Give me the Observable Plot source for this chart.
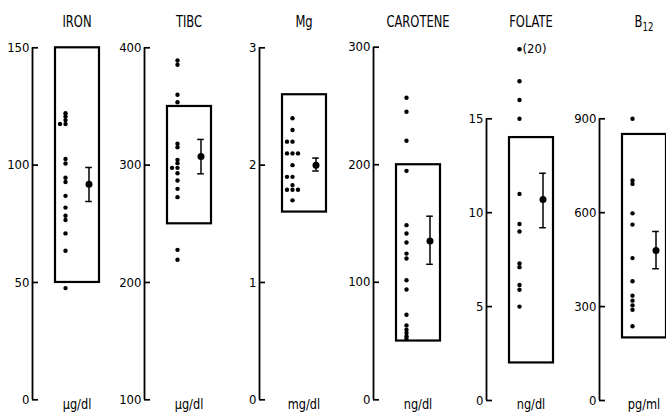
<!DOCTYPE html>
<html><head><meta charset="utf-8">
<script src="https://cdn.jsdelivr.net/npm/d3@7"></script>
<script src="https://cdn.jsdelivr.net/npm/@observablehq/plot@0.6"></script>
<style>
body{margin:0;background:#fff;}
#chart{position:relative;width:666px;height:415px;overflow:hidden;background:#fff;font-family:"DejaVu Sans Condensed","Liberation Sans Narrow",sans-serif;color:#000;}
.panel{position:absolute;top:0;}
.title{position:absolute;top:14px;width:100px;text-align:center;font-size:16px;line-height:16px;transform:scaleX(0.8);transform-origin:50% 50%;}
.title sub{font-size:12px;vertical-align:-4px;line-height:0;}
.unit{position:absolute;top:397px;width:100px;text-align:center;font-size:14px;line-height:14px;transform:scaleX(0.9);transform-origin:50% 50%;}
</style></head><body><div id="chart"></div>
<script>
// ---- data ----
const titleMain = ["IRON", "TIBC", "Mg", "CAROTENE", "FOLATE", "B"];
const titleSub  = ["", "", "", "", "", "12"];
const units     = ["µg/dl", "µg/dl", "mg/dl", "ng/dl", "ng/dl", "pg/ml"];
const axisMin   = [0, 100, 0, 0, 0, 0];
const axisMax   = [150, 400, 3, 300, 15, 900];
const tickValues = [[0, 50, 100, 150], [100, 200, 300, 400], [0, 1, 2, 3], [0, 100, 200, 300], [0, 5, 10, 15], [0, 300, 600, 900]];
const normalLow  = [50, 250, 1.6, 50, 2, 200];
const normalHigh = [150, 350, 2.6, 200, 14, 850];
const means  = [91.9, 307.3, 2.0, 135.2, 10.7, 479];
const errLow  = [84.5, 292.6, 1.95, 115.3, 9.2, 421];
const errHigh = [99.0, 321.9, 2.06, 156.2, 12.1, 540];

const ironValues = [122.1, 120.7, 119.2, 117.5, 117.5, 102.6, 100.7, 94.6, 92.8, 86.9, 81.9, 78.4, 76.6, 70.9, 63.5, 47.6];
const tibcValues = [389.2, 385.5, 360, 353.6, 318.2, 315.3, 304.5, 301.7, 297.7, 297.7, 293.1, 286.9, 279.8, 272.7, 227.8, 219.3];
const mgValues = [2.4, 2.3, 2.2, 2.2, 2.1, 2.1, 2.1, 2.0, 1.9, 1.9, 1.83, 1.79, 1.79, 1.79, 1.7];
const caroteneValues = [257, 245.1, 220.4, 194.8, 148.6, 141.5, 133.8, 124.4, 120.2, 101.7, 93.8, 72.4, 63.3, 59.7, 56.8, 54, 52];
const folateValues = [17.0, 16.0, 15.0, 11.0, 9.4, 9.0, 7.3, 7.1, 6.15, 5.9, 5.0];
const b12Values = [900, 703, 692, 598, 562, 455, 381, 335, 319, 304, 290, 237];
// folate outlier: true value 20, drawn above the axis break
const folateOutlierShownAt = 18.7;
const folateOutlierLabel = "(20)";

const panelValues = [ironValues, tibcValues, mgValues, caroteneValues, folateValues, b12Values];

// ---- layout (pixels) ----
const axisX   = [32, 144, 259, 373, 486, 599];
const yTopPx  = [47.3, 47.3, 47.3, 46.7, 118.3, 118.3];
const yBotPx  = [399.3, 399.3, 399.3, 399.3, 400, 400];
const W = 113, H = 415, ML = 32;
const BOX_X1 = 23, BOX_X2 = 67, DOT_X = 33, MEAN_X = 56.5, DOT_GAP = 5.5, CAP = 3.3, TICK = 6;
const FONT = '"DejaVu Sans Condensed","Liberation Sans Narrow",sans-serif';

// equal values are set side by side: centre, left, right, ...
function spread(values) {
  const seen = new Map();
  const order = [0, -1, 1, -2, 2];
  return values.map(v => {
    const k = seen.get(v) || 0;
    seen.set(v, k + 1);
    return {v, col: order[k] ?? 0};
  });
}

const chart = document.getElementById("chart");

for (let i = 0; i < 6; i++) {
  const dots = spread(panelValues[i]);
  const marks = [
    Plot.ruleX([0], {x: d => d, y1: axisMin[i], y2: axisMax[i], stroke: "#000", strokeWidth: 1.8}),
    Plot.ruleY(tickValues[i], {y: d => d, x1: 0, x2: TICK, stroke: "#000", strokeWidth: 1.7}),
    Plot.text(tickValues[i], {y: d => d, x: 0, dx: -3, textAnchor: "end", text: d => String(d), fontSize: 13, fill: "#000"}),
    Plot.rect([0], {x1: BOX_X1, x2: BOX_X2, y1: normalLow[i], y2: normalHigh[i], fill: "none", stroke: "#000", strokeWidth: 2.2}),
    Plot.dot(dots, {x: d => DOT_X + d.col * DOT_GAP, y: "v", r: 2.2, fill: "#000", stroke: "none"}),
    Plot.ruleX([MEAN_X], {x: d => d, y1: errLow[i], y2: errHigh[i], stroke: "#000", strokeWidth: 1.5}),
    Plot.ruleY([errLow[i], errHigh[i]], {y: d => d, x1: MEAN_X - CAP, x2: MEAN_X + CAP, stroke: "#000", strokeWidth: 1.5}),
    Plot.dot([means[i]], {x: MEAN_X, y: d => d, r: 3.5, fill: "#000", stroke: "none"})
  ];
  if (i === 4) {
    marks.push(Plot.dot([folateOutlierShownAt], {x: DOT_X, y: d => d, r: 2.2, fill: "#000", stroke: "none"}));
    marks.push(Plot.text([folateOutlierShownAt], {x: DOT_X, y: d => d, dx: 3, textAnchor: "start", text: () => folateOutlierLabel, fontSize: 13, fill: "#000"}));
  }
  const svg = Plot.plot({
    width: W, height: H,
    marginLeft: ML, marginRight: W - ML - 70,
    marginTop: yTopPx[i], marginBottom: H - yBotPx[i],
    x: {domain: [0, 70], axis: null},
    y: {domain: [axisMin[i], axisMax[i]], axis: null},
    style: {fontFamily: FONT, background: "transparent", overflow: "visible", color: "#000"},
    marks
  });
  svg.classList.add("panel");
  svg.style.left = (axisX[i] - ML) + "px";
  chart.appendChild(svg);

  const t = document.createElement("div");
  t.className = "title";
  t.style.left = (axisX[i] + 45 - 50) + "px";
  t.innerHTML = titleMain[i] + (titleSub[i] ? "<sub>" + titleSub[i] + "</sub>" : "");
  chart.appendChild(t);

  const u = document.createElement("div");
  u.className = "unit";
  u.style.left = (axisX[i] + 45 - 50) + "px";
  u.textContent = units[i];
  chart.appendChild(u);
}
</script></body></html>
